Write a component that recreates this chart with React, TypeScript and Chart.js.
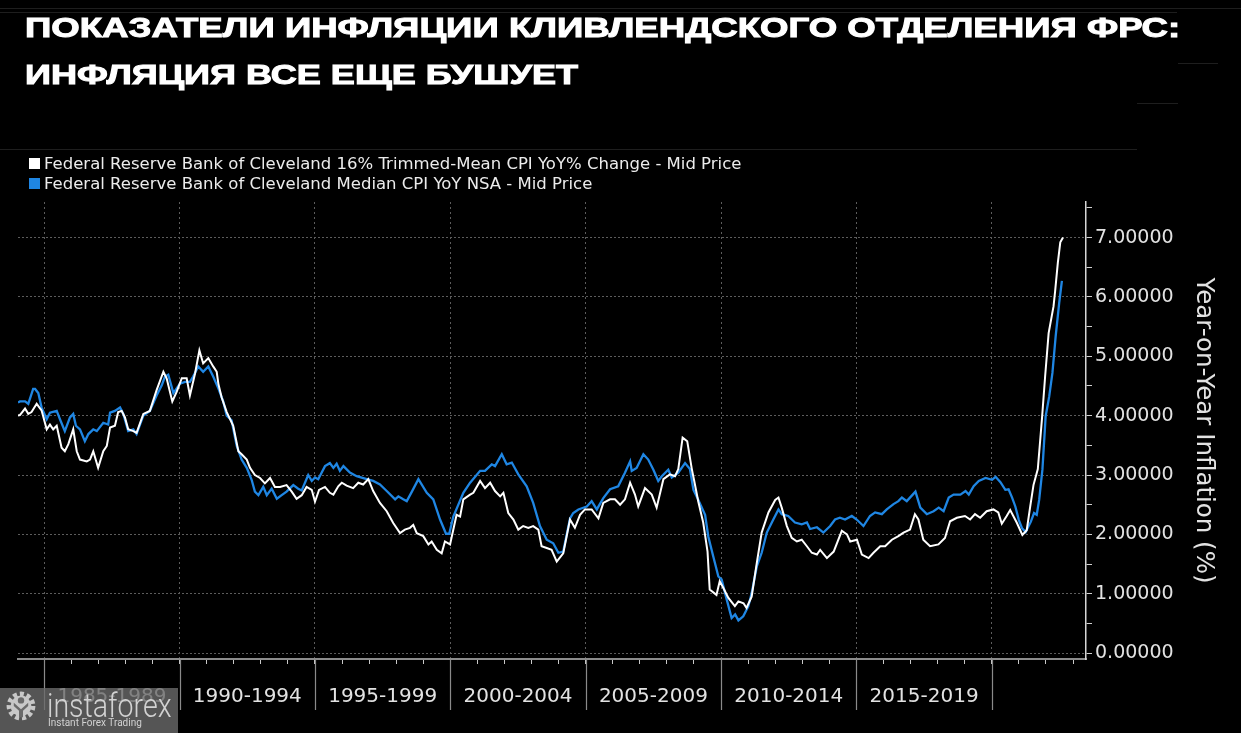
import React, { useEffect, useLayoutEffect, useRef } from 'react';
import { Chart, registerables } from 'chart.js';

Chart.register(...registerables);

const titleLines = ['ПОКАЗАТЕЛИ ИНФЛЯЦИИ КЛИВЛЕНДСКОГО ОТДЕЛЕНИЯ ФРС:', 'ИНФЛЯЦИЯ ВСЕ ЕЩЕ БУШУЕТ'];
const seriesNames = [
  'Federal Reserve Bank of Cleveland 16% Trimmed-Mean CPI YoY% Change - Mid Price',
  'Federal Reserve Bank of Cleveland Median CPI YoY NSA - Mid Price',
];
const yAxisTitle = 'Year-on-Year Inflation (%)';

const trimmedYears = [
  1984.03, 1984.10, 1984.29, 1984.41, 1984.53, 1984.72, 1984.90, 1985.09, 1985.21, 1985.33, 1985.46, 1985.64,
  1985.76, 1985.89, 1986.07, 1986.20, 1986.32, 1986.57, 1986.69, 1986.81, 1986.99, 1987.18, 1987.31, 1987.43,
  1987.61, 1987.73, 1987.86, 1987.98, 1988.10, 1988.29, 1988.41, 1988.66, 1988.90, 1989.15, 1989.40, 1989.52,
  1989.73, 1989.89, 1990.08, 1990.26, 1990.38, 1990.57, 1990.73, 1990.87, 1991.06, 1991.24, 1991.37, 1991.43,
  1991.55, 1991.74, 1991.98, 1992.17, 1992.29, 1992.48, 1992.60, 1992.78, 1992.97, 1993.15, 1993.34, 1993.52,
  1993.71, 1993.95, 1994.14, 1994.32, 1994.51, 1994.69, 1994.88, 1995.00, 1995.15, 1995.37, 1995.55, 1995.68,
  1995.86, 1995.99, 1996.17, 1996.41, 1996.60, 1996.78, 1996.97, 1997.15, 1997.40, 1997.65, 1997.89, 1998.14,
  1998.32, 1998.51, 1998.63, 1998.76, 1999.00, 1999.19, 1999.31, 1999.50, 1999.68, 1999.80, 1999.99, 2000.23,
  2000.36, 2000.48, 2000.73, 2000.85, 2001.10, 2001.28, 2001.47, 2001.65, 2001.84, 2001.96, 2002.14, 2002.33,
  2002.51, 2002.69, 2002.88, 2003.06, 2003.25, 2003.37, 2003.56, 2003.74, 2003.93, 2004.17, 2004.42, 2004.60,
  2004.79, 2004.97, 2005.22, 2005.47, 2005.65, 2005.90, 2006.08, 2006.27, 2006.45, 2006.64, 2006.82, 2006.94,
  2007.19, 2007.44, 2007.62, 2007.87, 2008.11, 2008.30, 2008.42, 2008.58, 2008.75, 2008.92, 2009.00, 2009.16,
  2009.34, 2009.50, 2009.58, 2009.83, 2009.95, 2010.08, 2010.27, 2010.51, 2010.64, 2010.83, 2010.94, 2011.13,
  2011.32, 2011.50, 2011.75, 2012.00, 2012.12, 2012.24, 2012.43, 2012.61, 2012.80, 2012.98, 2013.17, 2013.35,
  2013.54, 2013.66, 2013.91, 2014.16, 2014.46, 2014.65, 2014.77, 2015.02, 2015.20, 2015.45, 2015.63, 2015.88,
  2016.06, 2016.31, 2016.55, 2016.74, 2016.98, 2017.16, 2017.29, 2017.47, 2017.72, 2018.03, 2018.27, 2018.46,
  2018.71, 2019.01, 2019.20, 2019.38, 2019.57, 2019.81, 2020.06, 2020.24, 2020.37, 2020.55, 2020.68, 2020.92,
  2021.13, 2021.29, 2021.42, 2021.54, 2021.70, 2021.85, 2021.97, 2022.10, 2022.28, 2022.34, 2022.44, 2022.53,
  2022.63,
];
const trimmedValues = [
  4.00, 4.01, 4.12, 4.03, 4.06, 4.20, 4.09, 3.77, 3.85, 3.77, 3.83, 3.46,
  3.40, 3.52, 3.77, 3.40, 3.26, 3.23, 3.26, 3.40, 3.12, 3.40, 3.49, 3.80,
  3.83, 4.06, 4.08, 3.97, 3.77, 3.74, 3.71, 4.03, 4.08, 4.43, 4.74, 4.63,
  4.24, 4.40, 4.63, 4.63, 4.34, 4.71, 5.10, 4.88, 4.97, 4.83, 4.74, 4.54,
  4.31, 4.06, 3.83, 3.40, 3.35, 3.26, 3.12, 3.00, 2.95, 2.86, 2.95, 2.80,
  2.80, 2.83, 2.72, 2.60, 2.66, 2.80, 2.75, 2.55, 2.75, 2.80, 2.70, 2.67,
  2.81, 2.87, 2.82, 2.78, 2.87, 2.84, 2.93, 2.73, 2.53, 2.39, 2.19, 2.02,
  2.08, 2.11, 2.16, 2.02, 1.97, 1.83, 1.88, 1.74, 1.68, 1.88, 1.83, 2.33,
  2.30, 2.59, 2.67, 2.70, 2.90, 2.78, 2.87, 2.73, 2.64, 2.70, 2.36, 2.25,
  2.08, 2.14, 2.11, 2.14, 2.08, 1.80, 1.77, 1.74, 1.54, 1.68, 2.25, 2.11,
  2.33, 2.42, 2.42, 2.27, 2.53, 2.59, 2.59, 2.50, 2.59, 2.87, 2.67, 2.47,
  2.78, 2.67, 2.45, 2.93, 3.01, 2.98, 3.10, 3.63, 3.57, 3.10, 2.92, 2.55,
  2.20, 1.71, 1.07, 0.98, 1.21, 1.10, 0.93, 0.79, 0.87, 0.84, 0.76, 0.95,
  1.52, 2.03, 2.37, 2.58, 2.62, 2.45, 2.14, 1.94, 1.88, 1.91, 1.80, 1.69,
  1.66, 1.74, 1.60, 1.71, 2.06, 2.00, 1.88, 1.91, 1.66, 1.60, 1.69, 1.80,
  1.80, 1.91, 1.97, 2.03, 2.08, 2.34, 2.25, 1.91, 1.80, 1.83, 1.94, 2.22,
  2.28, 2.31, 2.25, 2.34, 2.28, 2.39, 2.42, 2.37, 2.18, 2.31, 2.41, 2.20,
  1.99, 2.07, 2.47, 2.83, 3.10, 3.93, 4.66, 5.39, 5.84, 6.10, 6.58, 6.92,
  7.00,
];

const medianYears = [
  1984.03, 1984.10, 1984.29, 1984.41, 1984.59, 1984.66, 1984.78, 1984.90, 1985.09, 1985.21, 1985.46, 1985.58,
  1985.76, 1985.95, 1986.07, 1986.17, 1986.32, 1986.50, 1986.63, 1986.81, 1986.94, 1987.18, 1987.36, 1987.43,
  1987.61, 1987.80, 1987.92, 1988.10, 1988.29, 1988.41, 1988.66, 1988.90, 1989.15, 1989.34, 1989.46, 1989.58,
  1989.77, 1990.01, 1990.20, 1990.38, 1990.50, 1990.69, 1990.87, 1991.06, 1991.24, 1991.43, 1991.61, 1991.74,
  1991.92, 1992.11, 1992.29, 1992.48, 1992.66, 1992.78, 1992.91, 1993.09, 1993.22, 1993.40, 1993.59, 1993.77,
  1993.95, 1994.20, 1994.38, 1994.51, 1994.75, 1994.88, 1995.00, 1995.12, 1995.37, 1995.55, 1995.68, 1995.80,
  1995.92, 1996.05, 1996.29, 1996.54, 1996.91, 1997.15, 1997.40, 1997.65, 1997.96, 1998.08, 1998.26, 1998.39,
  1998.58, 1998.82, 1999.13, 1999.37, 1999.62, 1999.84, 1999.96, 2000.11, 2000.48, 2000.73, 2001.10, 2001.28,
  2001.53, 2001.65, 2001.90, 2002.08, 2002.27, 2002.51, 2002.82, 2003.06, 2003.31, 2003.56, 2003.80, 2003.99,
  2004.17, 2004.42, 2004.54, 2004.73, 2005.04, 2005.22, 2005.41, 2005.65, 2005.90, 2006.20, 2006.45, 2006.64,
  2006.70, 2006.88, 2007.13, 2007.31, 2007.50, 2007.68, 2007.81, 2008.05, 2008.18, 2008.42, 2008.67, 2008.85,
  2008.98, 2009.16, 2009.41, 2009.53, 2009.71, 2009.90, 2010.02, 2010.21, 2010.39, 2010.52, 2010.64, 2010.82,
  2011.01, 2011.13, 2011.32, 2011.50, 2011.69, 2011.93, 2012.12, 2012.24, 2012.48, 2012.73, 2012.98, 2013.17,
  2013.29, 2013.54, 2013.78, 2014.03, 2014.21, 2014.39, 2014.58, 2014.83, 2015.01, 2015.26, 2015.50, 2015.69,
  2015.94, 2016.12, 2016.37, 2016.55, 2016.68, 2016.86, 2017.18, 2017.36, 2017.60, 2017.85, 2018.04, 2018.22,
  2018.41, 2018.59, 2018.84, 2019.03, 2019.15, 2019.33, 2019.52, 2019.77, 2020.01, 2020.14, 2020.32, 2020.50,
  2020.62, 2020.75, 2020.87, 2021.00, 2021.12, 2021.25, 2021.44, 2021.56, 2021.66, 2021.75, 2021.87, 2021.99,
  2022.12, 2022.24, 2022.36, 2022.49, 2022.59,
];
const medianValues = [
  4.22, 4.24, 4.24, 4.20, 4.45, 4.45, 4.38, 4.14, 3.94, 4.05, 4.08, 3.94,
  3.74, 3.97, 4.03, 3.83, 3.77, 3.57, 3.69, 3.77, 3.74, 3.88, 3.85, 4.05,
  4.08, 4.14, 4.03, 3.74, 3.77, 3.69, 4.00, 4.08, 4.34, 4.51, 4.66, 4.69,
  4.38, 4.54, 4.57, 4.57, 4.66, 4.83, 4.74, 4.83, 4.66, 4.46, 4.24, 4.00,
  3.92, 3.49, 3.26, 3.12, 2.92, 2.72, 2.66, 2.80, 2.66, 2.77, 2.60, 2.66,
  2.72, 2.83, 2.77, 2.74, 3.00, 2.90, 2.96, 2.93, 3.15, 3.20, 3.12, 3.19,
  3.07, 3.15, 3.04, 2.98, 2.93, 2.90, 2.84, 2.73, 2.59, 2.64, 2.59, 2.56,
  2.72, 2.93, 2.70, 2.59, 2.25, 2.01, 2.01, 2.30, 2.70, 2.87, 3.07, 3.07,
  3.18, 3.15, 3.35, 3.18, 3.21, 3.01, 2.81, 2.53, 2.14, 1.91, 1.85, 1.69,
  1.71, 2.27, 2.36, 2.42, 2.47, 2.56, 2.42, 2.61, 2.76, 2.81, 3.04, 3.23,
  3.07, 3.12, 3.35, 3.26, 3.09, 2.90, 2.98, 3.09, 2.96, 3.04, 3.20, 3.10,
  2.75, 2.58, 2.33, 1.96, 1.63, 1.29, 1.24, 0.90, 0.59, 0.65, 0.55, 0.62,
  0.79, 1.01, 1.46, 1.69, 2.03, 2.25, 2.42, 2.34, 2.31, 2.20, 2.17, 2.20,
  2.09, 2.12, 2.03, 2.14, 2.25, 2.28, 2.25, 2.31, 2.25, 2.14, 2.31, 2.37,
  2.34, 2.42, 2.51, 2.56, 2.62, 2.56, 2.72, 2.45, 2.34, 2.39, 2.45, 2.39,
  2.62, 2.67, 2.67, 2.73, 2.67, 2.81, 2.90, 2.95, 2.92, 2.97, 2.88, 2.75,
  2.76, 2.62, 2.47, 2.24, 2.10, 2.04, 2.21, 2.36, 2.33, 2.58, 3.09, 3.99,
  4.32, 4.72, 5.34, 5.90, 6.27,
];

const yTickValues = [0, 0.5, 1, 1.5, 2, 2.5, 3, 3.5, 4, 4.5, 5, 5.5, 6, 6.5, 7, 7.5];
const xTickValues = [
  1985, 1986, 1987, 1987.5, 1988, 1989, 1990, 1991, 1992, 1992.5, 1993, 1994, 1995, 1996, 1997, 1997.5, 1998, 1999,
  2000, 2001, 2002, 2002.5, 2003, 2004, 2005, 2006, 2007, 2007.5, 2008, 2009, 2010, 2011, 2012, 2012.5, 2013, 2014,
  2015, 2016, 2017, 2017.5, 2018, 2019, 2020, 2021, 2022, 2023,
];
const separatorYears = [1985, 1990, 1995, 2000, 2005, 2010, 2015, 2020];

const TRANSPARENT = 'rgba(0,0,0,0)';
const TITLE_WIDTHS = [1155, 553];

const separatorPlugin = {
  id: 'periodSeparators',
  afterDraw(chart: any) {
    const xs = chart.scales.x;
    const ctx = chart.ctx;
    ctx.save();
    ctx.strokeStyle = '#8a8a8a';
    ctx.lineWidth = 1.2;
    separatorYears.forEach((yr) => {
      const px = Math.round(xs.getPixelForValue(yr)) + 0.5;
      ctx.beginPath();
      ctx.moveTo(px, chart.chartArea.bottom);
      ctx.lineTo(px, 710);
      ctx.stroke();
    });
    ctx.restore();
  },
};

export default function App() {
  const canvasRef = useRef<HTMLCanvasElement>(null);
  const titleRef = useRef<HTMLDivElement>(null);

  useLayoutEffect(() => {
    document.body.style.margin = '0';
    document.body.style.background = '#000';
    const fit = () => {
      const root = titleRef.current;
      if (!root) return;
      const spans = root.querySelectorAll('span.tl') as NodeListOf<HTMLElement>;
      spans.forEach((sp, i) => {
        const w = sp.offsetWidth;
        if (!w) return;
        sp.style.transform = `scaleX(${TITLE_WIDTHS[i] / w})`;
      });
    };
    fit();
    if ((document as any).fonts && (document as any).fonts.ready) {
      (document as any).fonts.ready.then(fit);
    }
  }, []);

  useEffect(() => {
    const canvas = canvasRef.current;
    if (!canvas) return;
    const chart = new Chart(canvas, {
      type: 'line',
      data: {
        datasets: [
          {
            label: seriesNames[0],
            data: trimmedYears.map((x, i) => ({ x, y: trimmedValues[i] })),
            borderColor: '#ffffff',
            borderWidth: 2,
            pointRadius: 0,
            tension: 0,
          },
          {
            label: seriesNames[1],
            data: medianYears.map((x, i) => ({ x, y: medianValues[i] })),
            borderColor: '#1f86e3',
            borderWidth: 2.3,
            pointRadius: 0,
            tension: 0,
          },
        ],
      },
      options: {
        animation: false,
        responsive: false,
        maintainAspectRatio: false,
        layout: { padding: { left: 18, top: 202, right: 0, bottom: 0 } },
        plugins: {
          legend: { display: false },
          tooltip: { enabled: false },
          title: { display: false },
        },
        scales: {
          x: {
            type: 'linear',
            position: 'bottom',
            min: 1984.03,
            max: 2023.48,
            afterBuildTicks: (s: any) => {
              s.ticks = xTickValues.map((v) => ({ value: v }));
            },
            afterFit: (s: any) => {
              s.height = 74;
            },
            ticks: {
              autoSkip: false,
              maxRotation: 0,
              minRotation: 0,
              padding: 21,
              color: '#e2e2e2',
              font: { family: 'DejaVu Sans', size: 20 },
              callback: (v: any) => {
                const s = Number(v) - 2.5;
                return Number.isInteger(s) && s % 5 === 0 ? `${s}-${s + 4}` : '';
              },
            },
            grid: {
              color: (c: any) =>
                c.tick && Number.isInteger(c.tick.value) && c.tick.value % 5 === 0 ? '#5c5c5c' : TRANSPARENT,
              lineWidth: 1,
              tickLength: 5,
              tickWidth: 1,
              tickColor: (c: any) => (c.tick && Number.isInteger(c.tick.value) ? '#c8c8c8' : TRANSPARENT),
            },
            border: { color: '#8c8c8c', width: 2, dash: [2, 3] },
          },
          y: {
            type: 'linear',
            position: 'right',
            min: -0.1,
            max: 7.6,
            afterBuildTicks: (s: any) => {
              s.ticks = yTickValues.map((v) => ({ value: v }));
            },
            afterFit: (s: any) => {
              s.width = 155;
            },
            ticks: {
              padding: 3,
              color: '#e2e2e2',
              font: { family: 'DejaVu Sans', size: 19 },
              callback: (v: any) => (Number.isInteger(Number(v)) ? Number(v).toFixed(5) : ''),
            },
            grid: {
              color: (c: any) => (c.tick && Number.isInteger(c.tick.value) ? '#5c5c5c' : TRANSPARENT),
              lineWidth: 1,
              tickLength: 6,
              tickWidth: 1,
              tickColor: '#d0d0d0',
            },
            border: { color: '#d6d6d6', width: 1.5, dash: [2, 2] },
            title: {
              display: true,
              text: yAxisTitle,
              color: '#e2e2e2',
              font: { family: 'DejaVu Sans', size: 24.5 },
              padding: { top: 23, bottom: 0 },
            },
          },
        },
      },
      plugins: [separatorPlugin],
    } as any);
    return () => chart.destroy();
  }, []);

  const faint = '#1e1e1e';
  return (
    <div style={{ position: 'fixed', left: 0, top: 0, width: 1241, height: 733, background: '#000', overflow: 'hidden' }}>
      <canvas ref={canvasRef} width={1241} height={733} style={{ position: 'absolute', left: 0, top: 0, width: 1241, height: 733 }} />
      <div style={{ position: 'absolute', left: 0, top: 8, width: 1241, height: 1, background: faint }} />
      <div style={{ position: 'absolute', left: 0, top: 12, width: 1177, height: 1, background: faint }} />
      <div style={{ position: 'absolute', left: 1178, top: 63, width: 40, height: 1, background: faint }} />
      <div style={{ position: 'absolute', left: 1137, top: 103, width: 41, height: 1, background: faint }} />
      <div style={{ position: 'absolute', left: 0, top: 149, width: 1137, height: 1, background: faint }} />
      <div ref={titleRef}>
        {titleLines.map((t, i) => (
          <div key={i} style={{ position: 'absolute', left: 25, top: i === 0 ? 14 : 61, whiteSpace: 'nowrap' }}>
            <span
              className="tl"
              style={{
                display: 'inline-block',
                transformOrigin: 'left top',
                font: 'bold 28px "Liberation Sans", Arial, sans-serif',
                lineHeight: '28px',
                color: '#ffffff',
                WebkitTextStroke: '1px #ffffff',
              }}
            >
              {t}
            </span>
          </div>
        ))}
      </div>
      {seriesNames.map((n, i) => (
        <React.Fragment key={n}>
          <div style={{ position: 'absolute', left: 29, top: 158 + i * 20, width: 11, height: 11, background: i === 0 ? '#ffffff' : '#1f86e3' }} />
          <div
            style={{
              position: 'absolute',
              left: 44,
              top: 156 + i * 20,
              font: '16.5px "DejaVu Sans", sans-serif',
              lineHeight: '16px',
              color: '#ececec',
              whiteSpace: 'nowrap',
            }}
          >
            {n}
          </div>
        </React.Fragment>
      ))}
      <div style={{ position: 'absolute', left: 0, top: 688, width: 178, height: 45, background: 'rgba(106,106,106,0.8)' }}>
        <svg width="32" height="32" viewBox="0 0 40 40" style={{ position: 'absolute', left: 5, top: 2 }}>
          <circle cx="20" cy="20" r="15" fill="none" stroke="#c8c8c8" strokeWidth="6" strokeDasharray="5 3.6" />
          <circle cx="20" cy="20" r="13" fill="#c8c8c8" />
          <circle cx="20" cy="13" r="4" fill="#6a6a6a" />
          <path d="M11 16 L20 24 L29 16 L29 20 L22.5 26 L22.5 34 L17.5 34 L17.5 26 L11 20 Z" fill="#6a6a6a" />
        </svg>
        <div
          style={{
            position: 'absolute',
            left: 47,
            top: 0,
            font: '300 34px Roboto, sans-serif',
            lineHeight: '34px',
            color: '#d2d2d2',
            whiteSpace: 'nowrap',
            transform: 'scaleX(0.84)',
            transformOrigin: 'left top',
          }}
        >
          instaforex
        </div>
        <div
          style={{
            position: 'absolute',
            left: 48,
            top: 30,
            font: '10px Roboto, sans-serif',
            lineHeight: '10px',
            color: '#d2d2d2',
            whiteSpace: 'nowrap',
          }}
        >
          Instant Forex Trading
        </div>
      </div>
    </div>
  );
}
